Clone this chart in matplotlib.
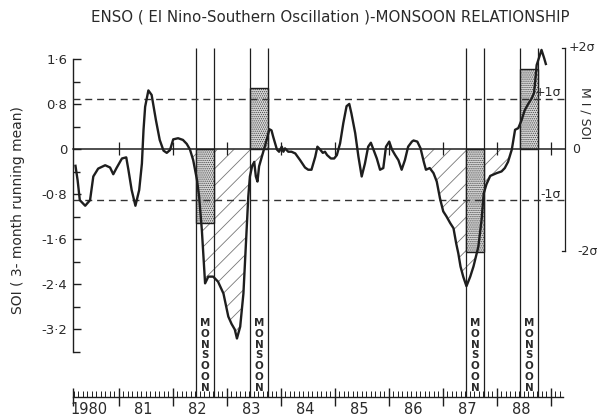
import numpy as np
import matplotlib
matplotlib.use("Agg")
import matplotlib.pyplot as plt
from matplotlib.ticker import FixedLocator

# ---------------- data ----------------
years = [1980.20, 1980.24, 1980.28, 1980.38, 1980.47, 1980.53, 1980.62, 1980.75, 1980.84, 1980.90,
         1980.96, 1981.06, 1981.14, 1981.18, 1981.24, 1981.31, 1981.38, 1981.43, 1981.46, 1981.49,
         1981.55, 1981.61, 1981.69, 1981.76, 1981.83, 1981.89, 1981.95, 1982.01, 1982.10, 1982.19,
         1982.26, 1982.32, 1982.38, 1982.45, 1982.49, 1982.54, 1982.60, 1982.66, 1982.75, 1982.84,
         1982.94, 1983.03, 1983.09, 1983.15, 1983.19, 1983.25, 1983.31, 1983.37, 1983.40, 1983.43,
         1983.47, 1983.51, 1983.54, 1983.57, 1983.60, 1983.65, 1983.69, 1983.74, 1983.79, 1983.83,
         1983.86, 1983.93, 1983.97, 1984.02, 1984.05, 1984.08, 1984.14, 1984.20, 1984.27, 1984.36,
         1984.45, 1984.51, 1984.57, 1984.64, 1984.68, 1984.73, 1984.78, 1984.82, 1984.86, 1984.93,
         1984.99, 1985.04, 1985.10, 1985.16, 1985.22, 1985.27, 1985.31, 1985.38, 1985.44, 1985.50,
         1985.56, 1985.62, 1985.67, 1985.71, 1985.78, 1985.84, 1985.90, 1985.95, 1986.01, 1986.06,
         1986.12, 1986.18, 1986.24, 1986.30, 1986.36, 1986.43, 1986.46, 1986.53, 1986.59, 1986.65,
         1986.69, 1986.76, 1986.83, 1986.89, 1986.95, 1987.01, 1987.07, 1987.14, 1987.20, 1987.25,
         1987.29, 1987.33, 1987.38, 1987.44, 1987.51, 1987.57, 1987.66, 1987.72, 1987.76, 1987.81,
         1987.88, 1988.00, 1988.09, 1988.15, 1988.21, 1988.28, 1988.31, 1988.34, 1988.40, 1988.46,
         1988.52, 1988.59, 1988.65, 1988.69, 1988.71, 1988.74, 1988.78, 1988.83, 1988.88, 1988.91]
soi = [-0.29, -0.55, -0.90, -1.00, -0.90, -0.48, -0.34, -0.28, -0.32, -0.44,
       -0.33, -0.16, -0.14, -0.36, -0.72, -1.00, -0.72, -0.25, 0.35, 0.76,
       1.05, 0.97, 0.52, 0.17, -0.02, -0.06, -0.01, 0.18, 0.20, 0.17,
       0.10, 0.00, -0.19, -0.54, -0.84, -1.43, -2.38, -2.26, -2.26, -2.35,
       -2.56, -2.97, -3.10, -3.20, -3.36, -3.15, -2.56, -1.43, -0.84, -0.48,
       -0.30, -0.22, -0.48, -0.57, -0.30, -0.13, 0.00, 0.17, 0.36, 0.34,
       0.23, 0.00, -0.04, 0.05, -0.04, 0.02, -0.04, -0.04, -0.07, -0.19,
       -0.32, -0.36, -0.36, -0.13, 0.05, 0.00, -0.06, -0.04, -0.10, -0.16,
       -0.16, -0.10, 0.11, 0.47, 0.77, 0.81, 0.64, 0.29, -0.13, -0.48,
       -0.25, 0.05, 0.12, 0.02, -0.16, -0.36, -0.33, 0.05, 0.14, 0.00,
       -0.10, -0.19, -0.36, -0.19, 0.05, 0.14, 0.16, 0.14, 0.02, -0.22,
       -0.36, -0.33, -0.42, -0.57, -0.87, -1.10, -1.19, -1.31, -1.40, -1.67,
       -1.85, -2.08, -2.26, -2.43, -2.26, -2.08, -1.73, -1.25, -0.78, -0.62,
       -0.47, -0.42, -0.39, -0.33, -0.22, 0.00, 0.17, 0.35, 0.38, 0.52,
       0.70, 0.82, 0.91, 1.00, 1.18, 1.50, 1.62, 1.77, 1.62, 1.52]

monsoon_years = [1982, 1983, 1987, 1988]
mi_values = [-1.31, 1.09, -1.82, 1.43]          # monsoon index (SOI units)
hatched_periods = [(1982.30, 1983.70), (1986.58, 1988.30)]
sigma = 0.9

ytick_vals = [1.6, 0.8, 0.0, -0.8, -1.6, -2.4, -3.2]
ytick_labels = ["1·6", "0·8", "0", "-0·8", "-1·6", "-2·4", "-3·2"]
year_ticks = [1980, 1981, 1982, 1983, 1984, 1985, 1986, 1987, 1988]
year_labels = ["1980", "81", "82", "83", "84", "85", "86", "87", "88"]
sigma_labels = ["+2σ", "+1σ", "0", "-1σ", "-2σ"]
title = "ENSO ( El Nino-Southern Oscillation )-MONSOON RELATIONSHIP"
ylabel = "SOI ( 3- month running mean)"
right_label = "M I / SOI"

# ---------------- figure ----------------
plt.rcParams["font.family"] = ["DejaVu Sans"]
ink = "#1e1e1e"
txt = "#2a2a2a"

fig = plt.figure(figsize=(6.02, 4.17), dpi=100)
fig.patch.set_facecolor("white")
ax = fig.add_axes([40 / 602, 7 / 417, 560 / 602, 380 / 417])
ax.set_xlim(1979.543, 1989.913)
ax.set_ylim(-4.631, 2.124)
ax.set_facecolor("none")

x0, x_end = 1980.15, 1989.265          # left spine / right sigma-axis positions
y_axis = -4.40                          # level of the time axis
band_top = 2 * sigma

yr = np.array(years)
s = np.array(soi)

# hatched negative SOI areas
plt.rcParams["hatch.linewidth"] = 0.6
for a, b in hatched_periods:
    m = (yr >= a) & (yr <= b)
    ax.fill_between(yr, s, 0, where=m & (s <= 0), interpolate=True,
                    facecolor="none", edgecolor="#777777", hatch="//", linewidth=0)

# monsoon bands
starts = np.array(monsoon_years) + 0.425
ends = np.array(monsoon_years) + 0.765
ax.vlines(np.concatenate([starts, ends]), y_axis, band_top, color=ink, lw=0.9)

# stippled MI bars
centers = (starts + ends) / 2
widths = ends - starts
ax.bar(centers, mi_values, width=widths, bottom=0, facecolor="#d9d9d9",
       edgecolor="#444444", hatch="........", linewidth=0, zorder=2)
ax.bar(centers, mi_values, width=widths, bottom=0, facecolor="none",
       edgecolor=ink, linewidth=1.0, zorder=3)

for c in centers:
    ax.text(c, -3.66, "\n".join("MONSOON"), ha="center", va="center",
            fontsize=7.4, linespacing=1.1, color=txt, fontweight="bold")

# zero line and sigma lines
ax.plot([x0, x_end], [0, 0], color=ink, lw=1.1, zorder=3)
for v in (sigma, -sigma):
    ax.plot([x0, x_end], [v, v], color="#333333", lw=1.0,
            linestyle=(0, (5, 3.5)), zorder=3)
# year ticks on the zero line
ax.vlines(year_ticks[1:] + [1989], -0.1, 0.13, color=ink, lw=0.9, zorder=3)

# SOI curve
ax.plot(yr, s, color=ink, lw=1.7, zorder=4, solid_joinstyle="round")

# left axis
for sp in ("top", "right"):
    ax.spines[sp].set_visible(False)
ax.spines["left"].set_position(("data", x0))
ax.spines["left"].set_bounds(-3.6, 1.6)
ax.spines["bottom"].set_position(("data", y_axis))
ax.spines["bottom"].set_bounds(x0, 1989.22)
for sp in ("left", "bottom"):
    ax.spines[sp].set_color(ink)
    ax.spines[sp].set_linewidth(1.0)

ax.yaxis.set_major_locator(FixedLocator(ytick_vals))
ax.set_yticklabels(ytick_labels)
ax.yaxis.set_minor_locator(FixedLocator([1.2, 0.4, -0.4, -1.2, -2.0, -2.8, -3.6]))
ax.tick_params(axis="y", which="major", direction="in", length=6, width=1.0,
               color=ink, labelsize=9.5, labelcolor=txt, pad=4)
ax.tick_params(axis="y", which="minor", direction="in", length=5, width=1.0, color=ink)

ax.xaxis.set_major_locator(FixedLocator([x0] + year_ticks[1:] + [1989]))
months = [y + m / 12 for y in range(1980, 1989) for m in range(12)] + [1989 + 1 / 12, 1989 + 2 / 12]
ax.xaxis.set_minor_locator(FixedLocator([m for m in months if m > x0]))
ax.tick_params(axis="x", which="major", direction="inout", length=13, width=1.0,
               color=ink, labelbottom=False)
ax.tick_params(axis="x", which="minor", direction="in", length=4.5, width=0.7, color=ink)

for yv, lab in zip(year_ticks, year_labels):
    ax.text(yv + 0.45, -4.63, lab, ha="center", va="center", fontsize=10.5,
            color=txt, clip_on=False)

# right sigma axis
ax.plot([x_end, x_end], [-2 * sigma, 2 * sigma], color=ink, lw=0.9)
ax.plot([x_end - 0.06, x_end], [2 * sigma, 2 * sigma], color=ink, lw=0.9)
ax.plot([x_end - 0.06, x_end], [-2 * sigma, -2 * sigma], color=ink, lw=0.9)
sig_pos = [(x_end + 0.06, 2 * sigma + 0.02, "left"),
           (x_end - 0.07, sigma + 0.12, "right"),
           (x_end + 0.13, 0.0, "left"),
           (x_end - 0.07, -sigma + 0.10, "right"),
           (x_end + 0.22, -2 * sigma - 0.02, "left")]
for (xp, ypos, ha), lab in zip(sig_pos, sigma_labels):
    ax.text(xp, ypos, lab, ha=ha, va="center", fontsize=9, color=txt, clip_on=False)
ax.text(1989.64, 0.65, right_label, rotation=270, ha="center", va="center",
        fontsize=9, color=txt)

fig.text(0.548, 0.959, title, ha="center", va="center", fontsize=10.8, color=txt)
fig.text(0.030, 0.496, ylabel, rotation=90, ha="center", va="center",
         fontsize=10, color=txt)

fig.savefig("out.png", dpi=100, facecolor="white")
